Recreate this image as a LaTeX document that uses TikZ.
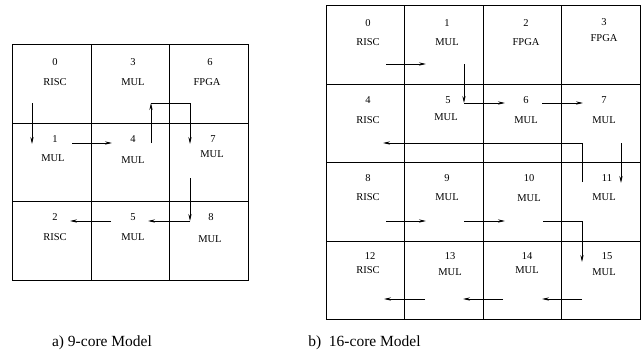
\documentclass[tikz,border=0pt]{standalone}
\usepackage{fontspec}
\setmainfont{Liberation Serif}
\usetikzlibrary{arrows.meta}
\begin{document}
\begin{tikzpicture}[x=1pt,y=-1pt,
  cell/.style={draw,line width=0.8pt,minimum width=78.5pt,minimum height=78.5pt,inner sep=0pt,outer sep=0pt},
  lbl/.style={font=\fontsize{10.5}{12}\selectfont,inner sep=0pt},
  captxt/.style={font=\fontsize{15.5}{18}\selectfont,inner sep=0pt},
  flow/.style={line width=0.7pt,-{Stealth[length=7pt,width=3.2pt]}}]
\useasboundingbox (0,0) rectangle (641,364);
% ---------- 9-core grid ----------
\node[cell] (A0) at (52,84) {};
\node[cell] (A1) at (52,162.5) {};
\node[cell] (A2) at (52,241) {};
\node[cell] (A3) at (130.5,84) {};
\node[cell] (A4) at (130.5,162.5) {};
\node[cell] (A5) at (130.5,241) {};
\node[cell] (A6) at (209,84) {};
\node[cell] (A7) at (209,162.5) {};
\node[cell] (A8) at (209,241) {};
\node[lbl] (A0n) at (55,62) {0};   \node[lbl] (A0t) at (55,82) {RISC};
\node[lbl] (A3n) at (133,62) {3};  \node[lbl] (A3t) at (133,82) {MUL};
\node[lbl] (A6n) at (210,62) {6};  \node[lbl] (A6t) at (207,82) {FPGA};
\node[lbl] (A1n) at (55,139) {1};  \node[lbl] (A1t) at (53,158) {MUL};
\node[lbl] (A4n) at (133,139) {4}; \node[lbl] (A4t) at (133,160) {MUL};
\node[lbl] (A7n) at (213,139) {7}; \node[lbl] (A7t) at (212,154) {MUL};
\node[lbl] (A2n) at (55,217) {2};  \node[lbl] (A2t) at (55,237) {RISC};
\node[lbl] (A5n) at (133,217) {5}; \node[lbl] (A5t) at (133,237) {MUL};
\node[lbl] (A8n) at (211,217) {8}; \node[lbl] (A8t) at (210,239) {MUL};
\coordinate (a1) at (32,103);  \coordinate (a2) at (32,144);
\coordinate (a3) at (72,143);  \coordinate (a4) at (112,143);
\coordinate (a5) at (151,143); \coordinate (a6) at (151,103);
\coordinate (a6b) at (190,103); \coordinate (a7) at (190,144);
\coordinate (a8) at (190,178); \coordinate (a9) at (190,221);
\coordinate (a10) at (148,221);
\coordinate (a11) at (111,221); \coordinate (a12) at (70,221);
\draw[flow] (a1) -- (a2);
\draw[flow] (a3) -- (a4);
\draw[flow] (a5) -- (a6);
\draw[flow] (a6) -- (a6b) -- (a7);
\draw[flow] (a8) -- (a9);
\draw[flow] (a9) -- (a10);
\draw[flow] (a11) -- (a12);
% ---------- 16-core grid ----------
\node[cell] (B0) at (365.5,45) {};
\node[cell] (B1) at (444,45) {};
\node[cell] (B2) at (522.5,45) {};
\node[cell] (B3) at (601,45) {};
\node[cell] (B4) at (365.5,123.5) {};
\node[cell] (B5) at (444,123.5) {};
\node[cell] (B6) at (522.5,123.5) {};
\node[cell] (B7) at (601,123.5) {};
\node[cell] (B8) at (365.5,202) {};
\node[cell] (B9) at (444,202) {};
\node[cell] (B10) at (522.5,202) {};
\node[cell] (B11) at (601,202) {};
\node[cell] (B12) at (365.5,280.5) {};
\node[cell] (B13) at (444,280.5) {};
\node[cell] (B14) at (522.5,280.5) {};
\node[cell] (B15) at (601,280.5) {};
\node[lbl] (B0n) at (368,23) {0};    \node[lbl] (B0t) at (368,42) {RISC};
\node[lbl] (B1n) at (447,23) {1};    \node[lbl] (B1t) at (447,42) {MUL};
\node[lbl] (B2n) at (526,23) {2};    \node[lbl] (B2t) at (526,42) {FPGA};
\node[lbl] (B3n) at (604,22) {3};    \node[lbl] (B3t) at (604,38) {FPGA};
\node[lbl] (B4n) at (368,100) {4};   \node[lbl] (B4t) at (368,120) {RISC};
\node[lbl] (B5n) at (448,100) {5};   \node[lbl] (B5t) at (446,117) {MUL};
\node[lbl] (B6n) at (526,100) {6};   \node[lbl] (B6t) at (526,120) {MUL};
\node[lbl] (B7n) at (604,100) {7};   \node[lbl] (B7t) at (604,120) {MUL};
\node[lbl] (B8n) at (368,178) {8};   \node[lbl] (B8t) at (368,197) {RISC};
\node[lbl] (B9n) at (447,178) {9};   \node[lbl] (B9t) at (447,197) {MUL};
\node[lbl] (B10n) at (529,178) {10}; \node[lbl] (B10t) at (529,198) {MUL};
\node[lbl] (B11n) at (607,178) {11}; \node[lbl] (B11t) at (604,197) {MUL};
\node[lbl] (B12n) at (370,256) {12}; \node[lbl] (B12t) at (368,270) {RISC};
\node[lbl] (B13n) at (450,256) {13}; \node[lbl] (B13t) at (450,272) {MUL};
\node[lbl] (B14n) at (527,256) {14}; \node[lbl] (B14t) at (527,270) {MUL};
\node[lbl] (B15n) at (607,256) {15}; \node[lbl] (B15t) at (604,272) {MUL};
\coordinate (b1) at (386,64);   \coordinate (b2) at (426,64);
\coordinate (b3) at (464,64);   \coordinate (b4) at (464,103);
\coordinate (b5) at (505,103);
\coordinate (b6) at (542,103);  \coordinate (b7) at (583,103);
\coordinate (b8) at (621,143);  \coordinate (b9) at (621,183);
\coordinate (b10) at (582,182); \coordinate (b11) at (582,143);
\coordinate (b12) at (383,143);
\coordinate (b13) at (386,221); \coordinate (b14) at (426,221);
\coordinate (b15) at (464,221); \coordinate (b16) at (505,221);
\coordinate (b17) at (543,221); \coordinate (b18) at (582,221);
\coordinate (b19) at (582,262);
\coordinate (b20) at (582,299); \coordinate (b21) at (542,299);
\coordinate (b22) at (503,299); \coordinate (b23) at (463,299);
\coordinate (b24) at (425,299); \coordinate (b25) at (384,299);
\draw[flow] (b1) -- (b2);
\draw[flow] (b3) -- (b4);
\draw[flow] (b4) -- (b5);
\draw[flow] (b6) -- (b7);
\draw[flow] (b8) -- (b9);
\draw[flow] (b10) -- (b11) -- (b12);
\draw[flow] (b13) -- (b14);
\draw[flow] (b15) -- (b16);
\draw[flow] (b17) -- (b18) -- (b19);
\draw[flow] (b20) -- (b21);
\draw[flow] (b22) -- (b23);
\draw[flow] (b24) -- (b25);
% ---------- captions ----------
\node[captxt] (capA) at (102,343) {a) 9-core Model};
\node[captxt] (capB) at (364.5,343) {b)\hspace{0.25em} 16-core Model};
\end{tikzpicture}
\end{document}
